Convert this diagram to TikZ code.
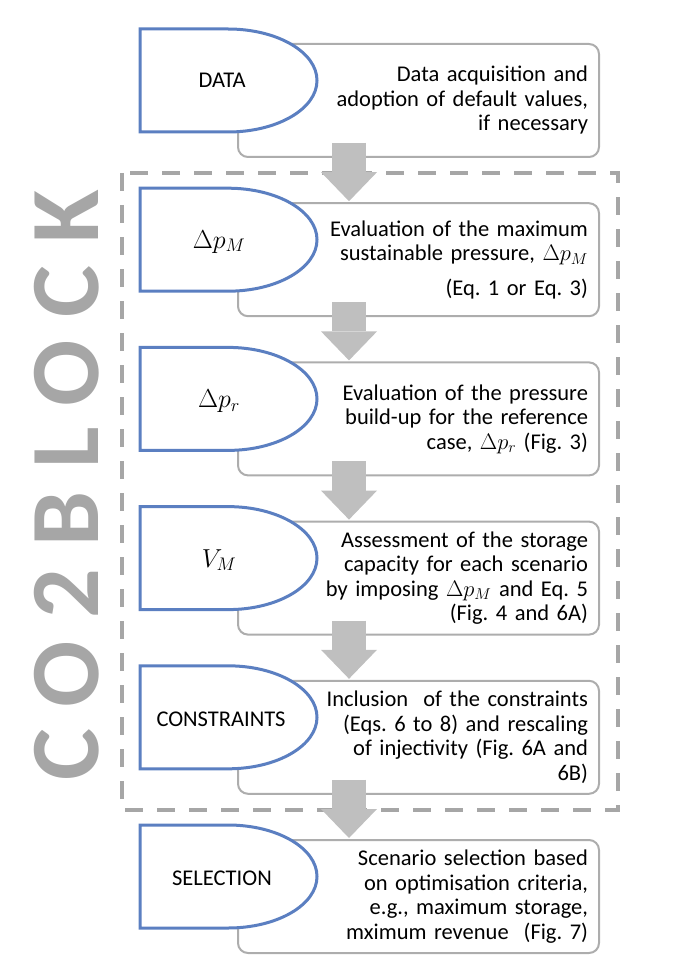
\RequirePackage{fix-cm}
\documentclass[tikz,border=0pt]{standalone}
\usepackage{fontspec}
\setmainfont{Carlito}
\newfontfamily\titlefont[LetterSpace=23]{Carlito}
\usepackage{tikz}
\usetikzlibrary{arrows.meta,positioning}
\definecolor{stageblue}{HTML}{5B7FC1}
\definecolor{cardgray}{HTML}{ADADAD}
\definecolor{framegray}{HTML}{A6A6A6}
\definecolor{arrowgray}{HTML}{BFBFBF}
\definecolor{titlegray}{HTML}{A6A6A6}
\frenchspacing

\begin{document}
\begin{tikzpicture}[
  x=1pt,y=-1pt,
  card/.style={rectangle,draw=cardgray,line width=2pt,fill=white,rounded corners=10pt,
    minimum width=361pt,minimum height=113pt,text width=339pt,inner xsep=11pt,
    align=right,font=\fontsize{22.5}{24.5}\selectfont},
  stage/.style={draw=stageblue,line width=3pt,fill=white},
  stagelabel/.style={font=\fontsize{22.5}{24.5}\selectfont,inner sep=0pt},
  stagemath/.style={font=\fontsize{26}{28}\selectfont,inner sep=0pt},
  flowarrow/.style={-{Triangle[width=56pt,length=29pt,line width=0pt]},line width=34pt,arrowgray},
  frame/.style={draw=framegray,line width=4pt,dash pattern=on 18pt off 14pt},
  bigtitle/.style={font=\titlefont\bfseries\fontsize{98}{98}\selectfont,text=titlegray,inner sep=0pt},
]
\useasboundingbox (0,0) rectangle (672,968);

% Description cards
\node[card] (datacard) at (418.5,100.5) {Data acquisition and\\adoption of default values,\\if necessary};
\node[card] (dpmcard) at (418.5,259.7) {Evaluation of the maximum\\sustainable pressure, $\Delta p_M$\\[10pt](Eq. 1 or Eq. 3)};
\node[card] (dprcard) at (418.5,418.9) {Evaluation of the pressure\\build-up for the reference\\case, $\Delta p_r$ (Fig. 3)};
\node[card] (vmcard) at (418.5,578.1) {Assessment of the storage\\capacity for each scenario\\by imposing $\Delta p_M$ and Eq. 5\\(Fig. 4 and 6A)};
\node[card] (concard) at (418.5,737.3) {Inclusion\ \ of the constraints\\(Eqs. 6 to 8) and rescaling\\of injectivity (Fig. 6A and\\6B)};
\node[card] (selcard) at (418.5,896.5) {Scenario selection based\\on optimisation criteria,\\e.g., maximum storage,\\mximum revenue\ \ (Fig. 7)};

% Stage shapes
\draw[stage] (140,29) -- (228,29) arc[start angle=-90,end angle=90,x radius=89,y radius=51.5] -- (140,132) -- cycle;
\draw[stage] (140,188.2) -- (228,188.2) arc[start angle=-90,end angle=90,x radius=89,y radius=51.5] -- (140,291.2) -- cycle;
\draw[stage] (140,347.4) -- (228,347.4) arc[start angle=-90,end angle=90,x radius=89,y radius=51.5] -- (140,450.4) -- cycle;
\draw[stage] (140,506.6) -- (228,506.6) arc[start angle=-90,end angle=90,x radius=89,y radius=51.5] -- (140,609.6) -- cycle;
\draw[stage] (140,665.8) -- (228,665.8) arc[start angle=-90,end angle=90,x radius=89,y radius=51.5] -- (140,768.8) -- cycle;
\draw[stage] (140,825) -- (228,825) arc[start angle=-90,end angle=90,x radius=89,y radius=51.5] -- (140,928) -- cycle;

% Stage labels
\node[stagelabel] (data) at (222,80.5) {DATA};
\node[stagemath] (dpm) at (219,241.7) {$\Delta p_M$};
\node[stagemath] (dpr) at (219,400.9) {$\Delta p_r$};
\node[stagemath] (vm) at (219,560.1) {$V_M$};
\node[stagelabel] (constraints) at (221,719.3) {CONSTRAINTS};
\node[stagelabel] (selection) at (222,878.5) {SELECTION};

% CO2BLOCK frame
\draw[frame] (122,173) rectangle (618,810);
\node[bigtitle,rotate=90] (title) at (67,485) {CO2BLOCK};

% Flow arrows
\draw[flowarrow] ([xshift=-69.5pt,yshift=15pt]datacard.south) -- ([xshift=-69.5pt,yshift=1pt]dpmcard.north);
\draw[flowarrow] ([xshift=-69.5pt,yshift=15pt]dpmcard.south) -- ([xshift=-69.5pt,yshift=1pt]dprcard.north);
\draw[flowarrow] ([xshift=-69.5pt,yshift=15pt]dprcard.south) -- ([xshift=-69.5pt,yshift=1pt]vmcard.north);
\draw[flowarrow] ([xshift=-69.5pt,yshift=15pt]vmcard.south) -- ([xshift=-69.5pt,yshift=1pt]concard.north);
\draw[flowarrow] ([xshift=-69.5pt,yshift=15pt]concard.south) -- ([xshift=-69.5pt,yshift=1pt]selcard.north);

\end{tikzpicture}
\end{document}
